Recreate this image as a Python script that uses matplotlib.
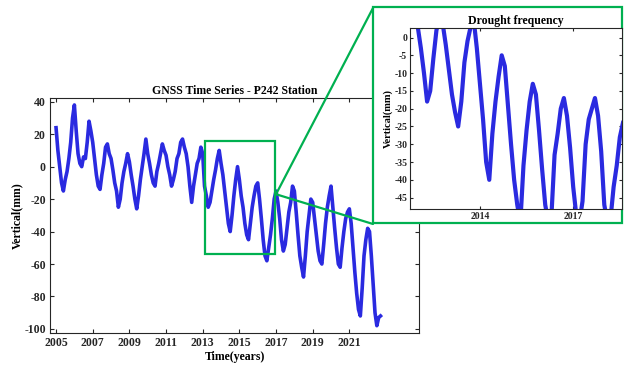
import numpy as np
import matplotlib.pyplot as plt
from matplotlib.patches import Rectangle, ConnectionPatch

plt.rcParams['font.family'] = ['Liberation Serif', 'DejaVu Serif']
plt.rcParams['font.weight'] = 'bold'
plt.rcParams['axes.unicode_minus'] = False

# main series at 0.1 year steps (mm)
years = np.round(np.arange(2005.0, 2022.75, 0.1), 1)
vertical = [
    24, 10, 0, -10, -15, -8, -3, 5, 15, 30,
    38, 22, 8, 2, 0, 6, 5, 15, 28, 22,
    15, 5, -5, -12, -14, -5, 2, 12, 14, 8,
    5, -2, -10, -15, -25, -20, -10, -3, 2, 8,
    3, -5, -12, -20, -26, -18, -8, 0, 8, 17,
    8, 2, -5, -10, -12, -3, 2, 8, 14, 10,
    7, 0, -5, -12, -8, -3, 5, 8, 15, 17,
    12, 8, 0, -12, -22, -12, -5, 2, 5, 12,
    8, -12, -18, -25, -22, -15, -8, -2, 5, 10,
    2, -5, -15, -25, -35, -40, -30, -18, -8, 0,
    -8, -18, -25, -35, -42, -45, -35, -25, -18, -12,
    -10, -20, -32, -45, -55, -58, -50, -42, -32, -20,
    -15, -22, -32, -45, -52, -48, -38, -28, -22, -12,
    -15, -28, -42, -55, -62, -68, -55, -40, -30, -20,
    -22, -32, -42, -52, -58, -60, -48, -35, -25, -18,
    -12, -25, -38, -50, -60, -62, -50, -40, -32, -28,
    -26, -35, -50, -65, -78, -88, -92, -75, -55, -45,
    -38, -40, -55, -72, -90, -98, -93, -92,
]

# inset ("Drought frequency") series
inset_years = np.round(np.arange(2011.8, 2018.65, 0.1), 1)
inset_vertical = [
    8, 6, 3, -3, -10, -18, -15, -6, 2, 6,
    4, -2, -9, -16, -21, -25, -18, -7, -1, 3,
    5, -3, -13, -23, -35, -40, -27, -18, -11, -5,
    -8, -19, -30, -40, -47, -52, -36, -26, -18, -13,
    -16, -26, -37, -47, -52, -50, -33, -27, -20, -17,
    -22, -31, -42, -50, -52, -46, -30, -23, -20, -17,
    -22, -32, -47, -52, -51, -42, -36, -28, -24,
]

n = min(len(years), len(vertical))
m = min(len(inset_years), len(inset_vertical))

blue = '#2a2ae0'
green = '#00b050'
axc = '#262626'

fig = plt.figure(figsize=(6.24, 3.67), dpi=100)

# main axes
ax = fig.add_axes([50/624, 34/367, 369/624, 235/367])
ax.plot(years[:n], vertical[:n], color=blue, lw=2.6)
ax.set_xlim(2004.67, 2024.8)
ax.set_ylim(-102.5, 42.3)
ax.set_xticks(np.arange(2005, 2022, 2))
ax.set_yticks(np.arange(-100, 41, 20))
ax.tick_params(direction='in', top=True, right=True, length=3,
               labelsize=8.5, colors=axc, pad=3)
for s in ax.spines.values():
    s.set_color(axc)
    s.set_linewidth(0.8)
ax.set_title('GNSS Time Series - P242 Station', fontsize=8.5,
             fontweight='bold', pad=3)
ax.set_xlabel('Time(years)', fontsize=8.5, fontweight='bold', labelpad=1)
ax.set_ylabel('Vertical(mm)', fontsize=8.5, fontweight='bold', labelpad=1)

# zoom box
ax.add_patch(Rectangle((2013.1, -54), 3.85, 70, fill=False,
                       edgecolor=green, lw=1.6, zorder=5))

# connectors
for yb in [1 - 8/367, 1 - 224/367]:
    con = ConnectionPatch(xyA=(2017.0, -17), coordsA=ax.transData,
                          xyB=(373/624, yb), coordsB='figure fraction',
                          color=green, lw=1.6, zorder=6)
    fig.add_artist(con)

# inset frame
frame = Rectangle((373/624, 1 - 223/367), 249/624, 216/367,
                  transform=fig.transFigure, facecolor='white',
                  edgecolor=green, lw=1.6, zorder=7)
fig.add_artist(frame)

ins = fig.add_axes([410/624, 1 - 209/367, 211.7/624, 180.7/367])
ins.set_zorder(8)
ins.plot(inset_years[:m], inset_vertical[:m], color=blue, lw=3)
ins.set_xlim(2011.75, 2018.56)
ins.set_ylim(-48.2, 2.6)
ins.set_xticks([2014, 2017])
ins.set_yticks(np.arange(-45, 1, 5))
ins.tick_params(direction='in', top=True, right=True, length=2.5,
                labelsize=7, colors=axc, pad=2)
for s in ins.spines.values():
    s.set_color(axc)
    s.set_linewidth(0.8)
ins.set_title('Drought frequency', fontsize=8.5, fontweight='bold', pad=3)
ins.set_ylabel('Vertical(mm)', fontsize=7.5, fontweight='bold', labelpad=1)

fig.savefig('out.png', dpi=100)
